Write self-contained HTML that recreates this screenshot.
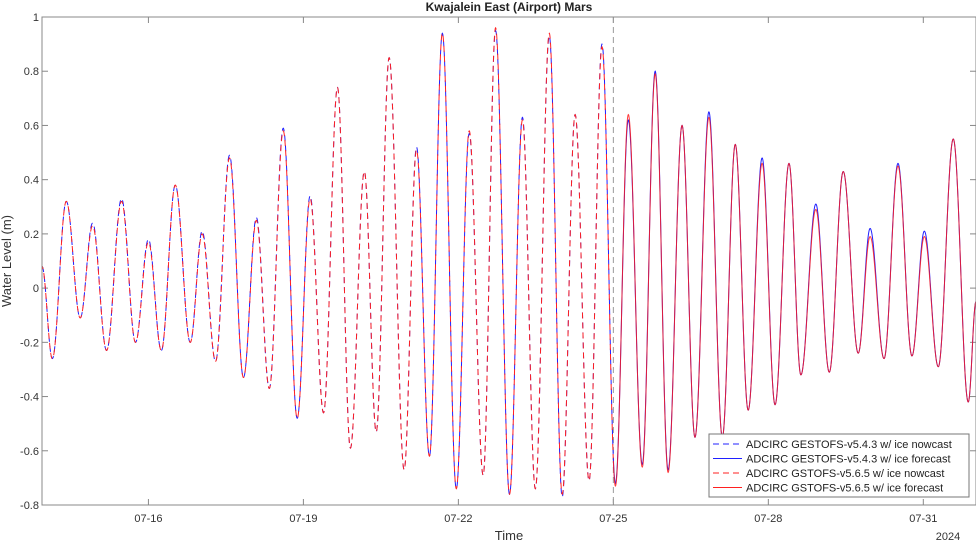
<!DOCTYPE html>
<html><head><meta charset="utf-8"><style>
body{margin:0;background:#fff;font-family:"Liberation Sans",sans-serif}
svg text{font-family:"Liberation Sans",sans-serif}
</style></head><body>
<svg id="chart" width="976" height="541" viewBox="0 0 976 541" xmlns="http://www.w3.org/2000/svg">
<rect width="976" height="541" fill="#fff"/>
<text x="509" y="11" text-anchor="middle" font-size="12" font-weight="bold" fill="#222">Kwajalein East (Airport) Mars</text>
<text x="509" y="540" text-anchor="middle" font-size="13" fill="#333">Time</text>
<text x="948" y="540" text-anchor="middle" font-size="11" fill="#333">2024</text>
<text transform="translate(11,261) rotate(-90)" text-anchor="middle" font-size="13" fill="#333">Water Level (m)</text>
<g id="grid"></g>
<g id="series"></g>
<rect x="42" y="17" width="934" height="488" fill="none" stroke="#888" stroke-width="1"/>
<g id="legend">
<rect x="709" y="434" width="260" height="63" fill="#fff" stroke="#777"/>
</g>
</svg>
<script>
// time in days since 07-14 00:00
const times=[-0.06,0.14,0.41,0.68,0.92,1.19,1.48,1.75,2.00,2.25,2.52,2.81,3.04,3.30,3.57,3.84,4.09,4.34,4.61,4.88,5.13,5.39,5.66,5.91,6.18,6.41,6.66,6.95,7.19,7.44,7.69,7.96,8.21,8.48,8.72,8.99,9.24,9.49,9.76,10.01,10.26,10.53,10.78,11.04,11.29,11.56,11.81,12.06,12.33,12.58,12.85,13.11,13.36,13.61,13.88,14.13,14.40,14.63,14.92,15.18,15.45,15.74,15.97,16.24,16.51,16.78,17.02,17.29,17.58,17.87,18.02];
const redVals=[0.08,-0.26,0.32,-0.11,0.23,-0.23,0.32,-0.2,0.17,-0.23,0.38,-0.2,0.2,-0.27,0.48,-0.33,0.25,-0.37,0.58,-0.48,0.33,-0.46,0.74,-0.59,0.43,-0.53,0.85,-0.67,0.51,-0.62,0.94,-0.74,0.58,-0.69,0.96,-0.76,0.62,-0.74,0.94,-0.76,0.64,-0.71,0.89,-0.73,0.64,-0.66,0.79,-0.68,0.60,-0.55,0.63,-0.55,0.53,-0.45,0.46,-0.43,0.46,-0.32,0.29,-0.31,0.43,-0.24,0.19,-0.26,0.45,-0.25,0.19,-0.29,0.55,-0.42,-0.05];
const blueVals=[0.08,-0.26,0.32,-0.11,0.24,-0.23,0.33,-0.2,0.18,-0.23,0.38,-0.2,0.21,-0.27,0.49,-0.33,0.26,-0.37,0.59,-0.48,0.34,-0.46,0.74,-0.59,0.43,-0.53,0.85,-0.67,0.52,-0.62,0.94,-0.74,0.57,-0.69,0.95,-0.76,0.63,-0.74,0.93,-0.77,0.64,-0.71,0.90,-0.72,0.62,-0.65,0.80,-0.67,0.60,-0.55,0.65,-0.55,0.53,-0.45,0.48,-0.43,0.46,-0.32,0.31,-0.31,0.43,-0.24,0.22,-0.26,0.46,-0.25,0.21,-0.29,0.55,-0.42,-0.05];
const nowcastEnd=11.0;
const yTicks=[-0.8,-0.6,-0.4,-0.2,0,0.2,0.4,0.6,0.8,1];
const xTickDays=[2,5,8,11,14,17];
const xTickLabels=["07-16","07-19","07-22","07-25","07-28","07-31"];
const legendLabels=["ADCIRC GESTOFS-v5.4.3 w/ ice nowcast","ADCIRC GESTOFS-v5.4.3 w/ ice forecast","ADCIRC GSTOFS-v5.6.5 w/ ice nowcast","ADCIRC GSTOFS-v5.6.5 w/ ice forecast"];

const X0=42,X1=976,Y0=17,Y1=505,DMIN=-0.06,DMAX=18.02,VMIN=-0.8,VMAX=1;
const xs=d=>X0+(d-DMIN)/(DMAX-DMIN)*(X1-X0);
const ys=v=>Y1-(v-VMIN)/(VMAX-VMIN)*(Y1-Y0);
const NS="http://www.w3.org/2000/svg";
const grid=document.getElementById('grid'),series=document.getElementById('series'),legend=document.getElementById('legend');
function mk(tag,attrs,parent){const e=document.createElementNS(NS,tag);for(const k in attrs)e.setAttribute(k,attrs[k]);parent.appendChild(e);return e;}

yTicks.forEach(v=>{
  const y=ys(v);
  const t1=mk('line',{x1:X0,x2:X0+6,y1:y,y2:y,stroke:'#888'},grid);
  
  
  const t2=mk('line',{x1:X1-6,x2:X1,y1:y,y2:y,stroke:'#888'},grid);
  
  
  const l=mk('text',{x:X0-3,y:y+4,'text-anchor':'end','font-size':'11',fill:'#333'},grid);
  l.textContent=(v===0?'0':(v===1?'1':String(v).replace(/^(-?)0\./,'$10.')));
  
  
});
xTickDays.forEach((d,i)=>{
  const x=xs(d);
  const t1=mk('line',{x1:x,x2:x,y1:Y1-6,y2:Y1,stroke:'#888'},grid);
  
  
  const t2=mk('line',{x1:x,x2:x,y1:Y0,y2:Y0+6,stroke:'#888'},grid);
  
  
  const l=mk('text',{x:x,y:Y1+17,'text-anchor':'middle','font-size':'11',fill:'#333'},grid);
  l.textContent=xTickLabels[i];
  
  
});
const vl=mk('line',{x1:xs(nowcastEnd),x2:xs(nowcastEnd),y1:Y0,y2:Y1,stroke:'#999','stroke-dasharray':'6,4'},grid);



function valAt(vals,d){
  for(let i=0;i<times.length-1;i++){
    if(d>=times[i]&&d<=times[i+1]){
      const f=(d-times[i])/(times[i+1]-times[i]);
      return vals[i]+(vals[i+1]-vals[i])*(1-Math.cos(Math.PI*f))/2;
    }
  }
  return vals[vals.length-1];
}
function path(vals,a,b){
  let p='';const step=0.005;
  for(let d=a;d<=b+1e-9;d+=step){p+=(p?'L':'M')+xs(d).toFixed(2)+','+ys(valAt(vals,d)).toFixed(2);}
  return p;
}
const bn=mk('path',{d:path(blueVals,DMIN,nowcastEnd),fill:'none',stroke:'#1f1fff','stroke-width':'1','stroke-dasharray':'6,4'},series);


const rn=mk('path',{d:path(redVals,DMIN,nowcastEnd),fill:'none',stroke:'#ff2020','stroke-width':'1','stroke-dasharray':'6,4','stroke-dashoffset':'3'},series);


const bf=mk('path',{d:path(blueVals,nowcastEnd,DMAX),fill:'none',stroke:'#2020ff','stroke-width':'1'},series);


const rf=mk('path',{d:path(redVals,nowcastEnd,DMAX),fill:'none',stroke:'#ff1a1a','stroke-width':'1',opacity:'0.85'},series);



const lcol=['#2020ff','#2020ff','#ff2020','#ff2020'],ldash=['6,4','','6,4',''];
legendLabels.forEach((t,i)=>{
  const y=444+i*14.5;
  const ln=mk('line',{x1:713,x2:742,y1:y,y2:y,stroke:lcol[i],'stroke-dasharray':ldash[i]||'none'},legend);
  
  
  const tx=mk('text',{x:746,y:y+4,'font-size':'11',fill:'#222'},legend);
  tx.textContent=t;
  
  
});
</script>
</body></html>
